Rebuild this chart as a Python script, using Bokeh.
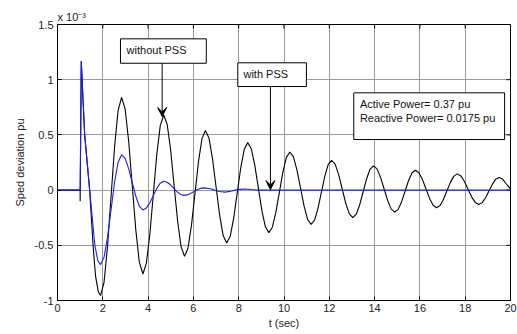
from bokeh.plotting import figure
from bokeh.models import (ColumnDataSource, FixedTicker, Label, Arrow, VeeHead)
from bokeh.embed import file_html
from bokeh.resources import INLINE

# Speed deviation (x 10^-3 pu)
t_without = [0.0, 1.0, 1.0, 1.05, 1.12, 1.2, 1.42, 1.57, 1.68, 1.80, 1.90,
             2.055, 2.21, 2.365, 2.52, 2.675, 2.83,
             2.987, 3.143, 3.30, 3.457, 3.613, 3.77,
             3.923, 4.077, 4.23, 4.383, 4.537, 4.69,
             4.843, 4.997, 5.15, 5.303, 5.457, 5.61,
             5.763, 5.917, 6.07, 6.223, 6.377, 6.53,
             6.687, 6.843, 7.00, 7.157, 7.313, 7.47,
             7.625, 7.78, 7.935, 8.09, 8.245, 8.40,
             8.555, 8.71, 8.865, 9.02, 9.175, 9.33,
             9.485, 9.64, 9.795, 9.95, 10.105, 10.26,
             10.417, 10.573, 10.73, 10.887, 11.043, 11.20,
             11.35, 11.50, 11.65, 11.80, 11.95, 12.10,
             12.257, 12.413, 12.57, 12.727, 12.883, 13.04,
             13.192, 13.343, 13.495, 13.647, 13.798, 13.95,
             14.107, 14.263, 14.42, 14.577, 14.733, 14.89,
             15.042, 15.193, 15.345, 15.497, 15.648, 15.80,
             15.957, 16.113, 16.27, 16.427, 16.583, 16.74,
             16.892, 17.043, 17.195, 17.347, 17.498, 17.65,
             17.808, 17.967, 18.125, 18.283, 18.442, 18.60,
             18.75, 18.90, 19.05, 19.20, 19.35, 19.50,
             19.65, 19.80, 20.0]
y_without = [0.0, 0.0, -0.1, 1.17, 0.85, 0.5, 0.0, -0.5, -0.78, -0.92, -0.955,
             -0.835, -0.506, -0.058, 0.391, 0.72, 0.84,
             0.733, 0.44, 0.04, -0.36, -0.653, -0.76,
             -0.664, -0.40, -0.04, 0.32, 0.584, 0.68,
             0.594, 0.36, 0.04, -0.28, -0.514, -0.60,
             -0.524, -0.315, -0.03, 0.255, 0.464, 0.54,
             0.472, 0.285, 0.03, -0.225, -0.412, -0.48,
             -0.419, -0.2525, -0.025, 0.2025, 0.369, 0.43,
             0.375, 0.226, 0.0225, -0.181, -0.33, -0.385,
             -0.336, -0.2025, -0.02, 0.1625, 0.296, 0.345,
             0.301, 0.181, 0.0175, -0.146, -0.266, -0.31,
             -0.271, -0.165, -0.02, 0.125, 0.231, 0.27,
             0.235, 0.14, 0.01, -0.12, -0.215, -0.25,
             -0.2185, -0.1325, -0.015, 0.1025, 0.1885, 0.22,
             0.192, 0.115, 0.01, -0.095, -0.172, -0.20,
             -0.1745, -0.105, -0.01, 0.085, 0.1545, 0.18,
             0.157, 0.095, 0.01, -0.075, -0.137, -0.16,
             -0.1395, -0.083, -0.0065, 0.070, 0.1265, 0.147,
             0.1285, 0.078, 0.0085, -0.061, -0.1115, -0.13,
             -0.1135, -0.069, -0.0075, 0.054, 0.099, 0.115,
             0.10, 0.06, 0.01]

t_with = [0.0, 1.0, 1.05, 1.12, 1.2, 1.42, 1.65, 1.78, 1.90,
          2.055, 2.21, 2.365, 2.52, 2.675, 2.83,
          2.987, 3.143, 3.30, 3.457, 3.613, 3.77,
          3.923, 4.077, 4.23, 4.383, 4.537, 4.69,
          4.838, 4.987, 5.135, 5.283, 5.432, 5.58,
          5.725, 5.87, 6.015, 6.16, 6.305, 6.45,
          6.75, 6.93, 7.15, 7.40, 7.65, 7.85, 8.05, 8.30, 8.55, 8.85, 20.0]
y_with = [0.0, 0.0, 1.17, 0.85, 0.5, 0.0, -0.5, -0.64, -0.675,
          -0.608, -0.426, -0.1775, 0.071, 0.253, 0.32,
          0.2865, 0.195, 0.07, -0.055, -0.1465, -0.18,
          -0.163, -0.115, -0.05, 0.015, 0.063, 0.08,
          0.071, 0.048, 0.016, -0.016, -0.039, -0.048,
          -0.0435, -0.031, -0.014, 0.003, 0.0155, 0.02,
          0.012, 0.0, -0.012, -0.018, -0.01, 0.0, 0.007, 0.01, 0.005, 0.0, 0.0]

x_ticks = [0, 2, 4, 6, 8, 10, 12, 14, 16, 18, 20]
y_ticks = [-1, -0.5, 0, 0.5, 1, 1.5]
y_tick_labels = ["-1", "-0.5", "0", "0.5", "1", "1.5"]

FONT = "Liberation Sans"
X0, X1, Y0, Y1 = 0, 20, -1, 1.5

p = figure(width=517, height=334, x_range=(X0, X1), y_range=(Y0, Y1),
           output_backend="svg", toolbar_location=None,
           min_border_left=57, min_border_right=7, min_border_top=24, min_border_bottom=34)
p.background_fill_color = "white"
p.border_fill_color = "white"
p.outline_line_color = "black"
p.outline_line_width = 1

p.title.text = "x 10\u207b\u00b3"
p.title.align = "left"
p.title.offset = 0
p.title.standoff = 3
p.title.text_font = FONT
p.title.text_font_size = "11px"
p.title.text_font_style = "normal"
p.title.text_color = "#222222"

p.xaxis.ticker = FixedTicker(ticks=x_ticks)
p.yaxis.ticker = FixedTicker(ticks=y_ticks)
p.yaxis.major_label_overrides = {v: s for v, s in zip(y_ticks, y_tick_labels)}
p.xaxis.axis_label = "t (sec)"
p.yaxis.axis_label = "Sped deviation pu"
for ax in (p.xaxis, p.yaxis):
    ax.major_label_text_font = FONT
    ax.major_label_text_font_size = "11px"
    ax.major_label_text_color = "#222222"
    ax.axis_label_text_font = FONT
    ax.axis_label_text_font_size = "11px"
    ax.axis_label_text_font_style = "normal"
    ax.axis_label_text_color = "#222222"
    ax.major_tick_in = 4
    ax.major_tick_out = 0
    ax.minor_tick_in = 0
    ax.minor_tick_out = 0
    ax.axis_line_color = "black"
    ax.major_tick_line_color = "black"
p.xaxis.major_label_standoff = 3
p.xaxis.axis_label_standoff = 2
p.yaxis.major_label_standoff = 4
p.yaxis.axis_label_standoff = 6

p.xgrid.grid_line_color = "#999999"
p.ygrid.grid_line_color = "#999999"
p.xgrid.grid_line_width = 1
p.ygrid.grid_line_width = 1

# inward ticks on the top and right edges of the box
tick_dy = 4 * (Y1 - Y0) / 276
tick_dx = 4 * (X1 - X0) / 453
p.segment(x0=x_ticks, y0=[Y1] * len(x_ticks), x1=x_ticks, y1=[Y1 - tick_dy] * len(x_ticks),
          line_color="black", line_width=1)
p.segment(x0=[X1] * len(y_ticks), y0=y_ticks, x1=[X1 - tick_dx] * len(y_ticks), y1=y_ticks,
          line_color="black", line_width=1)

src_without = ColumnDataSource(dict(t=t_without, y=y_without))
src_with = ColumnDataSource(dict(t=t_with, y=y_with))
p.line("t", "y", source=src_without, line_color="black", line_width=1.1)
p.line("t", "y", source=src_with, line_color="#1a1aff", line_width=1.1)

# annotation boxes
p.quad(left=[2.78], right=[6.57], bottom=[1.149], top=[1.370],
       fill_color="white", line_color="black", line_width=1)
p.quad(left=[7.96], right=[10.99], bottom=[0.938], top=[1.153],
       fill_color="white", line_color="black", line_width=1)
p.quad(left=[13.08], right=[19.74], bottom=[0.458], top=[0.881],
       fill_color="white", line_color="black", line_width=1)

def lab(x, y, text, size="11px"):
    p.add_layout(Label(x=x, y=y, text=text, text_font=FONT, text_font_size=size,
                       text_baseline="middle", text_align="left", text_color="#111111"))

lab(3.05, 1.270, "without PSS")
lab(8.21, 1.055, "with PSS")
lab(13.35, 0.782, "Active Power= 0.37 pu")
lab(13.35, 0.651, "Reactive Power= 0.0175 pu")

p.add_layout(Arrow(x_start=4.62, y_start=1.149, x_end=4.62, y_end=0.667,
                   line_color="black", line_width=1,
                   end=VeeHead(size=9, fill_color="black", line_color="black")))
p.add_layout(Arrow(x_start=9.40, y_start=0.938, x_end=9.40, y_end=0.005,
                   line_color="black", line_width=1,
                   end=VeeHead(size=9, fill_color="black", line_color="black")))

open("out.html", "w").write(file_html(p, INLINE))
